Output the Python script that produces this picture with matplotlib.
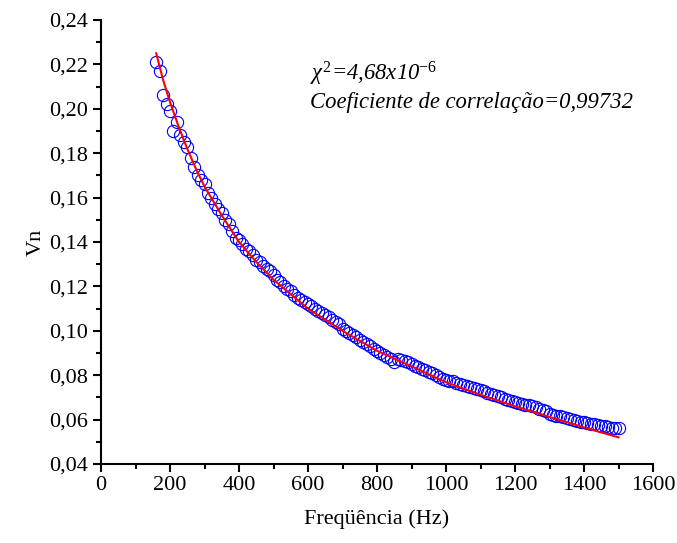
import matplotlib
matplotlib.use('Agg')
import matplotlib.pyplot as plt
from matplotlib.ticker import MultipleLocator
import numpy as np

# measured points (frequency in Hz, Vn)
freq = list(range(160, 1510, 10))
vn = [0.221, 0.217, 0.206, 0.202, 0.199, 0.190, 0.194, 0.188, 0.185, 0.183,
      0.178, 0.174, 0.170, 0.168, 0.166, 0.162, 0.160, 0.157, 0.155, 0.153,
      0.150, 0.148, 0.145, 0.142, 0.141, 0.139, 0.137, 0.136, 0.134, 0.132,
      0.131, 0.129, 0.128, 0.127, 0.125, 0.123, 0.122, 0.120, 0.119, 0.118,
      0.116, 0.115, 0.114, 0.113, 0.112, 0.111, 0.110, 0.109, 0.108, 0.107,
      0.106, 0.105, 0.104, 0.103, 0.101, 0.100, 0.099, 0.098, 0.097, 0.096,
      0.095, 0.094, 0.093, 0.092, 0.091, 0.090, 0.089, 0.088, 0.0875, 0.0858,
      0.0872, 0.0870, 0.0866, 0.0858, 0.0850, 0.0843, 0.0836, 0.0829, 0.0822, 0.0815,
      0.0808, 0.0800, 0.0790, 0.0785, 0.0780, 0.0776, 0.0772, 0.0767, 0.0762, 0.0757,
      0.0752, 0.0747, 0.0742, 0.0737, 0.0732, 0.0727, 0.0722, 0.0717, 0.0712, 0.0706,
      0.0700, 0.0695, 0.0690, 0.0685, 0.0680, 0.0676, 0.0672, 0.0668, 0.0664, 0.0660,
      0.0655, 0.0650, 0.0645, 0.0640, 0.0627, 0.0622, 0.0618, 0.0614, 0.0610, 0.0606,
      0.0602, 0.0598, 0.0594, 0.0590, 0.0587, 0.0584, 0.0581, 0.0578, 0.0575, 0.0572,
      0.0569, 0.0566, 0.0563, 0.0561, 0.0560]

# fitted curve
fit_freq = [160, 170, 180, 190, 200, 225, 250, 275, 300, 350, 400, 450, 500,
            600, 700, 800, 900, 1000, 1100, 1200, 1300, 1400, 1500]
fit_vn = [0.225, 0.219, 0.213, 0.208, 0.203, 0.192, 0.182, 0.173, 0.165, 0.152,
          0.140, 0.131, 0.123, 0.110, 0.100, 0.091, 0.084, 0.0768, 0.0712, 0.0660,
          0.0612, 0.0565, 0.0520]

yticks = [0.04, 0.06, 0.08, 0.10, 0.12, 0.14, 0.16, 0.18, 0.20, 0.22, 0.24]
ylabels = ['0,04', '0,06', '0,08', '0,10', '0,12', '0,14', '0,16', '0,18', '0,20', '0,22', '0,24']
xticks = [0, 200, 400, 600, 800, 1000, 1200, 1400, 1600]

plt.rcParams['font.family'] = ['Liberation Serif', 'DejaVu Serif']
plt.rcParams['mathtext.fontset'] = 'custom'
plt.rcParams['mathtext.rm'] = 'Liberation Serif'
plt.rcParams['mathtext.it'] = 'Liberation Serif:italic'
plt.rcParams['mathtext.bf'] = 'Liberation Serif:bold'

fig = plt.figure(figsize=(6.77, 5.43), dpi=100)
ax = fig.add_axes([101/677, 1-464/543, 552/677, 444/543])

ax.plot(freq, vn, 'o', mfc='none', mec='#0000ff', ms=8.8, mew=0.8, zorder=2)
ax.plot(fit_freq, fit_vn, '-', color='#ff0000', lw=1.5, zorder=3)

ax.set_xlim(0, 1600)
ax.set_ylim(0.04, 0.24)
ax.set_xticks(xticks)
ax.set_xticklabels([str(t) for t in xticks])
ax.set_yticks(yticks)
ax.set_yticklabels(ylabels)
ax.xaxis.set_minor_locator(MultipleLocator(100))
ax.yaxis.set_minor_locator(MultipleLocator(0.01))

for s in ['top', 'right']:
    ax.spines[s].set_visible(False)
for s in ['left', 'bottom']:
    ax.spines[s].set_linewidth(1.5)
ax.tick_params(which='major', direction='out', length=6, width=1.5, labelsize=16, pad=3)
ax.tick_params(which='minor', direction='out', length=3.5, width=1.5)

ax.set_xlabel('Freqüência (Hz)', fontsize=16, labelpad=10)
ax.set_ylabel('Vn', fontsize=16, labelpad=3)

ax.text(0.379, 0.878, r'$\chi^2$=4,68x10$^{-6}$', transform=ax.transAxes,
        fontsize=16.3, style='italic', va='center')
ax.text(0.379, 0.815, 'Coeficiente de correlação=0,99732', transform=ax.transAxes,
        fontsize=16.3, style='italic', va='center')

fig.savefig('out.png', dpi=100)
